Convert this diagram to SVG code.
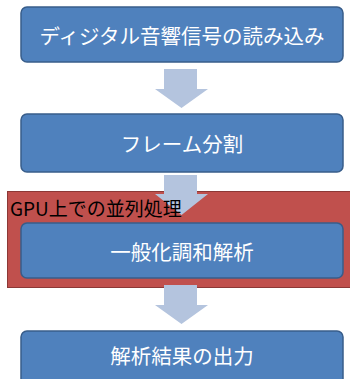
<svg xmlns="http://www.w3.org/2000/svg" width="350" height="379" viewBox="0 0 350 379">
<style>
.box{fill:#4f81bd;stroke:#385d8a;stroke-width:1.5}
.t{fill:#ffffff;font-family:"Noto Sans CJK JP","Noto Sans",sans-serif;font-size:20.5px;text-anchor:middle;dominant-baseline:central}
.arrow{fill:#b4c4de}
.lbl{fill:#000000;font-family:"Noto Sans CJK JP","Noto Sans",sans-serif;font-size:19px}
</style>
<rect width="350" height="379" fill="#ffffff"/>
<g id="gpu-group">
<rect x="7.5" y="191.5" width="350" height="96" fill="#c0504d" stroke="#8c3836" stroke-width="1"/>
</g>
<g id="connectors">
<polygon class="arrow" points="164,69 197,69 197,89 208,89 181.5,108 155,89 164,89"/>
<polygon class="arrow" points="164,175 197,175 197,194 208,194 181.5,215 155,194 164,194"/>
<polygon class="arrow" points="164,285 197,285 197,305 208,305 181.5,324 155,305 164,305"/>
</g>
<g id="gpu-label">
<text class="lbl" x="10" y="216">GPU上での並列処理</text>
</g>
<g id="node1">
<rect class="box" x="21" y="7" width="322" height="55" rx="6"/>
<text class="t" x="182" y="34.5">ディジタル音響信号の読み込み</text>
</g>
<g id="node2">
<rect class="box" x="21" y="114" width="322" height="58" rx="6"/>
<text class="t" x="182" y="142.5">フレーム分割</text>
</g>
<g id="node3">
<rect class="box" x="21" y="223" width="322" height="55" rx="6"/>
<text class="t" x="182" y="250.5">一般化調和解析</text>
</g>
<g id="node4">
<rect class="box" x="21" y="331" width="322" height="60" rx="6"/>
<text class="t" x="182" y="355">解析結果の出力</text>
</g>
</svg>
